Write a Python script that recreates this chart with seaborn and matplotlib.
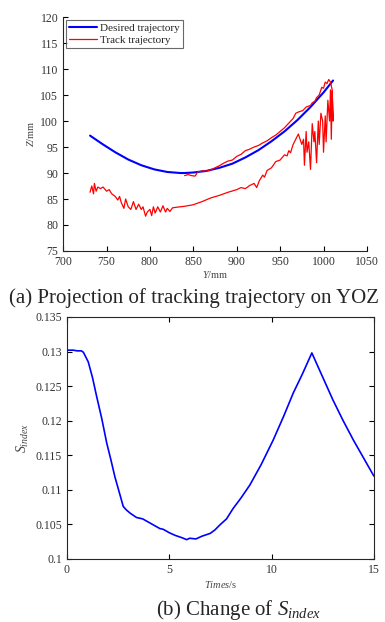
import numpy as np
import pandas as pd
import seaborn as sns
import matplotlib.pyplot as plt

# ---- (a) projection on YOZ ----
desired_y = [731, 745, 760, 775, 790, 805, 820, 835, 840, 850, 865, 880, 895, 910,
             925, 940, 955, 970, 985, 1000, 1011]
desired_z = [97.2, 95.6, 94.0, 92.6, 91.5, 90.7, 90.2, 90.0, 90.0, 90.1, 90.4, 91.0,
             91.8, 93.0, 94.4, 96.1, 98.0, 100.2, 102.7, 105.5, 107.8]

# lower branch (outgoing), then upper branch back towards 840
track_y = [731, 733, 735, 736, 738, 740, 743, 746, 750, 753, 756, 760, 763, 765, 767,
           770, 772, 775, 778, 781, 784, 787, 790, 792, 795, 797, 800, 802, 804, 806,
           809, 812, 815, 818, 820, 823, 826, 830, 840, 850, 860, 870, 880, 890, 900,
           905, 910, 915, 920, 923, 926, 930, 932, 935, 940, 945, 950, 955, 958, 960,
           962, 965, 968, 971, 973, 975, 977, 978, 980, 981, 983, 985, 987, 989, 990,
           992, 994, 995, 997, 999, 1000, 1002, 1003, 1005, 1007, 1008, 1009, 1010, 1011,
           1010, 1008, 1006, 1004, 1002, 1000, 998, 995, 992, 990, 987, 985, 980, 976,
           972, 968, 965, 960, 955, 950, 945, 940, 935, 930, 925, 920, 915, 910, 905,
           900, 895, 890, 885, 880, 875, 870, 865, 860, 855, 852, 848, 844, 840]
track_z = [86.3, 87.5, 86.0, 88.0, 86.5, 87.3, 87.0, 87.3, 86.5, 86.8, 86.0, 85.5, 84.8,
           85.5, 84.3, 83.2, 85.0, 83.5, 83.0, 84.5, 83.0, 84.0, 83.0, 83.5, 81.7, 82.5,
           83.0, 81.8, 83.5, 82.3, 83.5, 82.5, 83.7, 82.5, 83.2, 82.6, 83.3, 83.4, 83.6,
           83.9, 84.5, 85.2, 85.7, 86.3, 86.8, 87.2, 87.0, 87.6, 88.0, 87.2, 88.5, 89.6,
           89.2, 90.5, 91.0, 92.2, 92.5, 93.5, 93.3, 94.3, 93.9, 95.5, 96.5, 97.5, 96.5,
           95.5, 96.5, 91.5, 98.0, 94.0, 96.0, 90.7, 99.5, 96.0, 98.0, 92.0, 100.0, 95.5,
           101.5, 100.0, 94.0, 101.0, 96.0, 104.0, 100.0, 106.0, 96.5, 105.8, 100.0,
           106.0, 107.5, 108.0, 107.2, 107.5, 106.3, 106.5, 105.0, 104.5, 103.8, 103.5,
           103.0, 102.7, 102.0, 101.8, 101.5, 100.5, 99.6, 98.7, 98.0, 97.3, 96.8, 96.2,
           95.8, 95.3, 95.0, 94.6, 94.3, 93.6, 93.2, 92.5, 92.3, 91.9, 91.4, 91.0, 90.6,
           90.4, 90.4, 90.2, 89.4, 89.5, 89.7, 89.5]

# ---- (b) change of S_index ----
time_s = [0.0, 0.3, 0.5, 0.7, 0.8, 1.04, 1.25, 1.45, 1.7, 1.94, 2.15, 2.34, 2.55, 2.75,
          2.9, 3.1, 3.4, 3.7, 4.0, 4.3, 4.54, 4.7, 5.0, 5.3, 5.6, 5.85, 6.0, 6.3, 6.6,
          7.0, 7.23, 7.5, 7.8, 8.12, 8.5, 8.94, 9.5, 10.08, 10.6, 11.06, 11.5, 11.97,
          12.5, 13.0, 13.5, 14.0, 14.5, 15.0]
s_index = [0.1302, 0.1302, 0.1301, 0.1301, 0.1299, 0.1285, 0.1262, 0.1235, 0.1203,
           0.1168, 0.1143, 0.1119, 0.1097, 0.1076, 0.1071, 0.1066, 0.1060, 0.1058,
           0.1053, 0.1048, 0.1044, 0.1043, 0.1038, 0.1034, 0.1031, 0.1028, 0.1030,
           0.1029, 0.1033, 0.1037, 0.1042, 0.1050, 0.1058, 0.1073, 0.1088, 0.1107,
           0.1137, 0.1172, 0.1207, 0.1240, 0.1267, 0.1298, 0.1263, 0.1230, 0.1200,
           0.1172, 0.1146, 0.1120]

sns.set_style("ticks")
plt.rcParams['font.family'] = ['Liberation Serif', 'DejaVu Serif']
plt.rcParams['mathtext.fontset'] = 'custom'
plt.rcParams['mathtext.rm'] = 'Liberation Serif'
plt.rcParams['mathtext.it'] = 'Liberation Serif:italic'
plt.rcParams['xtick.direction'] = 'in'
plt.rcParams['ytick.direction'] = 'in'

tick_col = '#333333'
fig = plt.figure(figsize=(3.85, 6.22), dpi=100)

# top panel
ax1 = fig.add_axes([0.164, 0.5965, 0.789, 0.376])
sns.lineplot(x=desired_y, y=desired_z, ax=ax1, color='#0000ff', linewidth=1.5,
             sort=False, estimator=None, label='Desired trajectory')
sns.lineplot(x=track_y, y=track_z, ax=ax1, color='#ff0000', linewidth=0.9,
             sort=False, estimator=None, label='Track trajectory')
ax1.set_xlim(700, 1050)
ax1.set_ylim(75, 120)
ax1.set_xticks(np.arange(700, 1051, 50))
ax1.set_yticks(np.arange(75, 121, 5))
ax1.spines['top'].set_visible(False)
ax1.spines['right'].set_visible(False)
ax1.tick_params(labelsize=8.5, colors='black', labelcolor=tick_col, length=3.5, width=0.8)
ax1.set_xlabel(r'$Y$/mm', fontsize=7.5, color='#444444', labelpad=1)
ax1.set_ylabel(r'$Z$/mm', fontsize=7.5, color='#444444', labelpad=3)
leg = ax1.legend(loc='upper left', fontsize=8, frameon=True, fancybox=False,
                 borderpad=0.25, labelspacing=0.2, handlelength=2.5, handletextpad=0.3,
                 borderaxespad=0.3)
leg.get_frame().set_edgecolor('#444444')
leg.get_frame().set_linewidth(0.8)

# bottom panel
ax2 = fig.add_axes([0.174, 0.1013, 0.797, 0.3891])
sns.lineplot(x=time_s, y=s_index, ax=ax2, color='#0000ff', linewidth=1.2,
             sort=False, estimator=None)
ax2.set_xlim(0, 15)
ax2.set_ylim(0.1, 0.135)
ax2.set_xticks([0, 5, 10, 15])
ax2.set_yticks([0.1, 0.105, 0.11, 0.115, 0.12, 0.125, 0.13, 0.135])
ax2.set_yticklabels(['0.1', '0.105', '0.11', '0.115', '0.12', '0.125', '0.13', '0.135'])
ax2.tick_params(labelsize=8.5, colors='black', labelcolor=tick_col, length=3.5, width=0.8,
                right=True, top=True)
ax2.set_xlabel(r'$Times$/s', fontsize=7.5, color='#444444', labelpad=2)
ax2.set_ylabel(r'$S_{index}$', fontsize=10, color='#444444', labelpad=3)
for sp in ax2.spines.values():
    sp.set_linewidth(0.8)
for sp in ax1.spines.values():
    sp.set_linewidth(0.8)

fig.text(0.505, 0.513, '(a) Projection of tracking trajectory on YOZ', fontsize=15,
         ha='center', va='baseline')
fig.text(0.62, 0.011, r'(b) Change of $S_{index}$', fontsize=15,
         ha='center', va='baseline')

fig.savefig('out.png', dpi=100)
